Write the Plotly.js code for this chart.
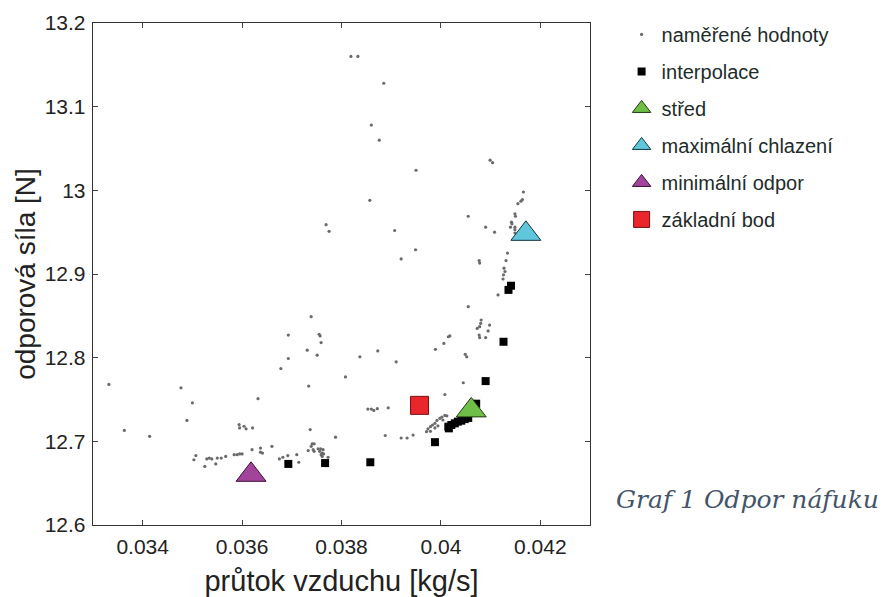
<!DOCTYPE html>
<html>
<head>
<meta charset="utf-8">
<script src="https://cdn.plot.ly/plotly-3.0.1.min.js"></script>
<style>html,body{margin:0;padding:0;background:#fff;}#chart{width:888px;height:597px;}</style>
</head>
<body>
<div id="chart"></div>
<script>
// naměřené hodnoty (measured)
const measuredX = [0.03819,0.03833,0.03885,0.03860,0.03876,0.03950,0.04099,0.04104,0.04166,0.03769,0.03775,0.03739,0.03693,0.03755,0.03757,0.03759,0.03731,0.03751,0.03693,0.04155,0.04161,0.04164,0.03857,0.04055,0.04149,0.04150,0.04142,0.04143,0.04140,0.04149,0.04149,0.04149,0.04090,0.04108,0.03907,0.03949,0.03920,0.04134,0.04131,0.04077,0.04078,0.04127,0.04129,0.04126,0.04125,0.04115,0.04055,0.04081,0.04080,0.04078,0.04073,0.04098,0.04095,0.04077,0.04078,0.04090,0.04018,0.04015,0.04006,0.03989,0.03873,0.03837,0.04049,0.04052,0.03332,0.03477,0.03500,0.03489,0.03363,0.03414,0.03632,0.03678,0.03734,0.03737,0.03788,0.03594,0.03595,0.03604,0.03608,0.03621,0.03660,0.03637,0.03637,0.03641,0.03620,0.03584,0.03590,0.03595,0.03600,0.03567,0.03558,0.03550,0.03539,0.03534,0.03529,0.03525,0.03547,0.03507,0.03503,0.03675,0.03682,0.03692,0.03710,0.03714,0.03741,0.03745,0.03739,0.03733,0.03743,0.03745,0.03753,0.03758,0.03763,0.03756,0.03761,0.03759,0.03764,0.03773,0.03761,0.04008,0.04002,0.03998,0.03992,0.03988,0.03983,0.03979,0.03974,0.03971,0.03979,0.03988,0.03994,0.04004,0.04012,0.03888,0.03920,0.03932,0.03944,0.03853,0.03860,0.03865,0.03872,0.03894,0.04008,0.04045,0.03808,0.03910];
const measuredY = [13.160,13.160,13.128,13.078,13.060,13.024,13.036,13.033,12.998,12.959,12.951,12.849,12.827,12.828,12.826,12.818,12.809,12.803,12.799,12.984,12.987,12.989,12.988,12.969,12.972,12.969,12.962,12.960,12.956,12.956,12.953,12.949,12.956,12.950,12.952,12.929,12.918,12.925,12.916,12.916,12.913,12.907,12.903,12.899,12.894,12.875,12.861,12.845,12.841,12.837,12.835,12.839,12.832,12.827,12.824,12.824,12.826,12.825,12.817,12.810,12.808,12.801,12.804,12.801,12.768,12.764,12.746,12.725,12.713,12.706,12.751,12.787,12.766,12.714,12.705,12.720,12.716,12.718,12.715,12.716,12.694,12.692,12.687,12.686,12.690,12.684,12.684,12.685,12.685,12.682,12.680,12.680,12.679,12.680,12.679,12.670,12.673,12.683,12.678,12.679,12.681,12.683,12.684,12.675,12.697,12.697,12.694,12.689,12.690,12.688,12.691,12.691,12.690,12.688,12.686,12.684,12.685,12.681,12.682,12.731,12.729,12.7275,12.725,12.7215,12.7195,12.7175,12.715,12.7115,12.712,12.716,12.7185,12.7255,12.7305,12.707,12.704,12.704,12.7075,12.7385,12.7385,12.737,12.739,12.740,12.756,12.770,12.777,12.795];

// interpolace
const interpX = [0.03693,0.03767,0.03858,0.03988,0.04015,0.04016,0.04021,0.04028,0.04034,0.04041,0.04048,0.04055,0.04071,0.04090,0.04126,0.04136,0.04141];
const interpY = [12.673,12.674,12.675,12.699,12.7175,12.7155,12.7195,12.7215,12.7235,12.7247,12.7266,12.728,12.745,12.772,12.819,12.881,12.886];

// special points
const stredX = [0.04061], stredY = [12.737];
const maxChlX = [0.04171], maxChlY = [12.948];
const minOdpX = [0.03618], minOdpY = [12.660];
const zaklX = [0.03957], zaklY = [12.743];

const names = ['naměřené hodnoty','interpolace','střed','maximální chlazení','minimální odpor','základní bod'];
const xTitle = 'průtok vzduchu [kg/s]';
const yTitle = 'odporová síla [N]';
const caption = 'Graf 1 Odpor náfuku';

const triSize = 26;
const traces = [
  {x: measuredX, y: measuredY, name: names[0], legendgroup:'a', mode:'markers', type:'scatter',
   marker:{symbol:'circle', size:3.2, color:'#6a6a6a'}},
  {x: interpX, y: interpY, name: names[1], legendgroup:'b', mode:'markers', type:'scatter',
   marker:{symbol:'square', size:8, color:'#000'}},
  {x: stredX, y: stredY, name: names[2], legendgroup:'c', mode:'markers', type:'scatter',
   marker:{symbol:'triangle-up', size:triSize, color:'#6fbe45', line:{color:'#1f3a12', width:1}}},
  {x: maxChlX, y: maxChlY, name: names[3], legendgroup:'d', mode:'markers', type:'scatter',
   marker:{symbol:'triangle-up', size:triSize, color:'#5fc6dc', line:{color:'#123640', width:1}}},
  {x: minOdpX, y: minOdpY, name: names[4], legendgroup:'e', mode:'markers', type:'scatter',
   marker:{symbol:'triangle-up', size:triSize, color:'#a2449c', line:{color:'#3a1036', width:1}}},
  {x: zaklX, y: zaklY, name: names[5], legendgroup:'f', mode:'markers', type:'scatter',
   marker:{symbol:'square', size:18, color:'#e8262b', line:{color:'#7a1010', width:1}}}
];

const fontSans = 'Liberation Sans, Arial, sans-serif';
const layout = {
  width: 888, height: 597,
  paper_bgcolor:'#fff', plot_bgcolor:'#fff',
  margin:{l:93, r:298, t:23, b:72},
  showlegend:true,
  legend:{
    xref:'container', yref:'container', x:0.70, y:0.975, xanchor:'left', yanchor:'top',
    font:{family:fontSans, size:20, color:'#1e2b2b'},
    traceorder:'grouped', tracegroupgap:8, bgcolor:'rgba(0,0,0,0)',
    itemsizing:'trace'
  },
  xaxis:{
    range:[0.033,0.043], dtick:0.002, tick0:0.034, ticks:'inside', ticklen:5, tickcolor:'#444',
    showline:true, linecolor:'#333', linewidth:1.3, mirror:'ticks', showgrid:false, zeroline:false,
    tickfont:{family:fontSans, size:21, color:'#222'}, ticklabelstandoff:2,
    title:{text:xTitle, font:{family:fontSans, size:29, color:'#222'}, standoff:14}
  },
  yaxis:{
    range:[12.6,13.2], dtick:0.1, tick0:12.6, ticks:'inside', ticklen:5, tickcolor:'#444',
    showline:true, linecolor:'#333', linewidth:1.3, mirror:'ticks', showgrid:false, zeroline:false,
    tickfont:{family:fontSans, size:21, color:'#222'}, ticklabelstandoff:2,
    title:{text:yTitle, font:{family:fontSans, size:28, color:'#222'}, standoff:0}
  },
  annotations:[{
    text: caption, xref:'paper', yref:'paper', x:1.048, y:0.05, xanchor:'left', yanchor:'middle',
    showarrow:false, font:{family:'DejaVu Serif, serif', size:25, color:'#44546a', style:'italic'}
  }]
};

Plotly.newPlot('chart', traces, layout, {displayModeBar:false, staticPlot:true});
</script>
</body>
</html>
